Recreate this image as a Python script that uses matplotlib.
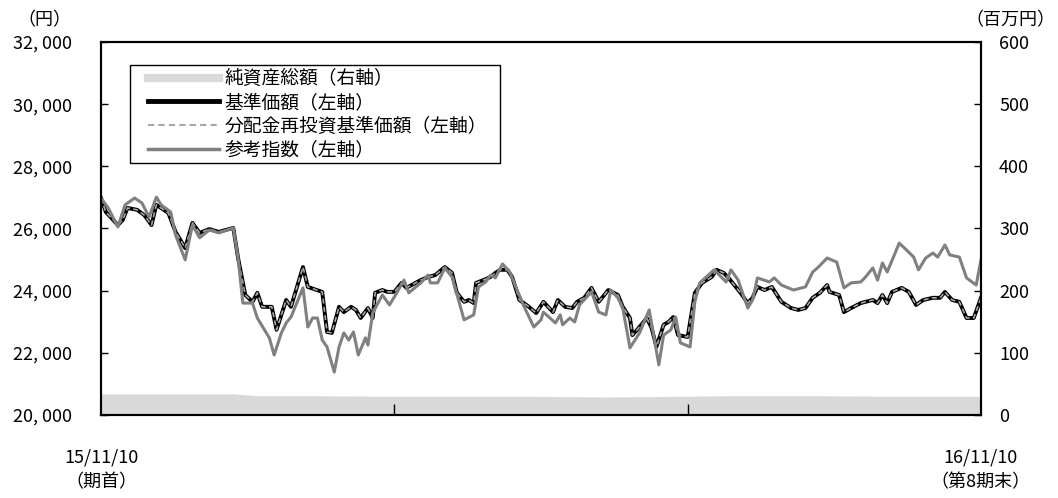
import numpy as np
import pandas as pd
import matplotlib
matplotlib.use('Agg')
import matplotlib.pyplot as plt
from matplotlib.ticker import FuncFormatter
from matplotlib.lines import Line2D
from matplotlib.patches import Rectangle

plt.rcParams['font.family'] = ['Noto Sans CJK JP', 'DejaVu Sans']

start = pd.Timestamp('2015-11-10')
end = pd.Timestamp('2016-11-10')

# 基準価額 (day offset from start, yen)
nav_days = [0, 2, 7, 9, 11, 15, 18, 21, 23, 28, 31, 35, 38, 41, 45, 49, 55, 57, 60, 63,
            65, 67, 71, 73, 77, 79, 84, 86, 92, 94, 96, 99, 101, 104, 106, 108, 111, 113, 114, 117,
            119, 122, 125, 127, 133, 136, 139, 143, 146, 148, 151, 153, 155, 156, 159, 162, 164, 166, 169, 171,
            174, 178, 181, 184, 188, 190, 193, 196, 198, 201, 204, 207, 211, 215, 217, 220, 221, 223, 227, 229,
            231, 234, 236, 238, 240, 244, 247, 250, 254, 256, 259, 261, 266, 269, 271, 273, 276, 279, 283, 287,
            290, 293, 296, 299, 302, 303, 307, 309, 312, 316, 321, 323, 325, 327, 329, 333, 336, 339, 342, 346,
            349, 351, 354, 357, 360, 363, 366]
nav = [26980, 26530, 26110, 26270, 26660, 26600, 26430, 26110, 26760, 26500, 25890, 25370, 26180, 25860, 25980, 25890, 26020, 25050, 23860, 23640,
       23930, 23480, 23480, 22740, 23700, 23480, 24760, 24120, 23960, 22670, 22640, 23480, 23310, 23480, 23380, 23120, 23440, 23120, 23930, 24020,
       23960, 23960, 24250, 24090, 24340, 24440, 24500, 24760, 24570, 23930, 23640, 23700, 23600, 24250, 24340, 24440, 24570, 24670, 24670, 24440,
       23700, 23480, 23280, 23640, 23310, 23700, 23480, 23440, 23640, 23770, 24090, 23640, 24020, 23860, 23480, 23120, 22570, 22740, 23120, 22800,
       22190, 22900, 22990, 23150, 22570, 22510, 23930, 24250, 24440, 24670, 24570, 24410, 23930, 23600, 23770, 24120, 24020, 24120, 23640, 23440,
       23380, 23440, 23770, 23930, 24180, 23960, 23860, 23310, 23440, 23600, 23700, 23600, 23860, 23600, 23960, 24090, 23960, 23540, 23700, 23770,
       23770, 23960, 23700, 23640, 23120, 23120, 23770]
# 分配金再投資基準価額 (no distribution in the period)
nav_reinv = list(nav)

# 参考指数
ref_days = [0, 3, 7, 10, 14, 17, 20, 23, 25, 29, 31, 35, 38, 41, 45, 49, 55, 57, 59, 63,
            65, 70, 72, 75, 77, 79, 84, 86, 88, 90, 92, 94, 97, 99, 101, 103, 105, 107, 110, 111,
            113, 117, 120, 123, 126, 128, 133, 136, 137, 140, 143, 146, 151, 155, 157, 160, 162, 164, 167, 170,
            176, 180, 183, 184, 189, 191, 192, 195, 197, 199, 204, 207, 210, 212, 215, 217, 220, 224, 228, 230,
            232, 234, 237, 239, 241, 245, 247, 249, 255, 260, 262, 265, 269, 271, 273, 278, 280, 283, 288, 293,
            296, 298, 302, 306, 309, 312, 316, 318, 321, 323, 325, 327, 332, 335, 338, 340, 343, 346, 348, 351,
            353, 357, 360, 364, 366]
ref = [26980, 26660, 26050, 26760, 26980, 26820, 26370, 27010, 26760, 26530, 25790, 24990, 26110, 25700, 25950, 25860, 26020, 25050, 23600, 23600,
       23120, 22480, 21930, 22640, 22960, 23150, 24090, 22830, 23120, 23120, 22410, 22190, 21380, 22190, 22640, 22410, 22670, 21930, 22480, 22250,
       23280, 23860, 23540, 23930, 24340, 23930, 24250, 24500, 24250, 24250, 24730, 24440, 23060, 23220, 24120, 24280, 24500, 24410, 24860, 24600,
       23480, 22830, 23060, 23310, 22960, 23220, 22900, 23120, 22990, 23540, 23960, 23310, 23220, 24020, 23770, 23440, 22160, 22640, 23380, 22510,
       21610, 22570, 22740, 23150, 22320, 22190, 23640, 24250, 24670, 24280, 24670, 24340, 23440, 23700, 24410, 24280, 24410, 24180, 24020, 24120,
       24600, 24730, 25050, 24920, 24090, 24250, 24280, 24440, 24730, 24340, 24890, 24600, 25530, 25310, 25080, 24670, 25050, 25210, 25080, 25470,
       25150, 25080, 24410, 24180, 24990]

# 純資産総額 (百万円)
aum_days = [0, 30, 55, 65, 90, 120, 150, 180, 210, 240, 260, 300, 330, 366]
aum = [34, 34, 34, 31, 31, 30, 30, 30, 29, 30, 31, 31, 30, 30]

to_dates = lambda d: start + pd.to_timedelta(d, unit='D')

fig = plt.figure(figsize=(10.58, 4.98), dpi=100)
ax = fig.add_axes([0.0955, 0.1667, 0.8317, 0.749])
ax2 = ax.twinx()

ax2.fill_between(to_dates(aum_days), 0, aum, color='#d9d9d9', lw=0, zorder=1)
ax2.set_ylim(0, 600)
ax2.set_yticks(range(0, 601, 100))
ax2.tick_params(axis='y', direction='in', length=5, width=1, labelsize=13, pad=13)

ax.set_zorder(ax2.get_zorder() + 1)
ax.patch.set_visible(False)

ax.plot(to_dates(nav_days), nav, color='black', lw=2.8, solid_joinstyle='round')
ax.plot(to_dates(nav_days), nav_reinv, color='#a6a6a6', lw=1.2, ls=(0, (3, 2)))
ax.plot(to_dates(ref_days), ref, color='#808080', lw=2.2, solid_joinstyle='round')

ax.set_xlim(start, end)
ax.set_ylim(20000, 32000)
ax.set_yticks(range(20000, 32001, 2000))
ax.yaxis.set_major_formatter(FuncFormatter(lambda v, p: '{:,.0f}'.format(v).replace(',', ', ')))
ax.tick_params(axis='y', direction='in', length=5, width=1, labelsize=13, pad=21)
ax.set_xticks([start + (end - start) / 3, start + (end - start) * 2 / 3])
ax.set_xticklabels([])
ax.tick_params(axis='x', direction='in', length=8, width=1)

for a in (ax, ax2):
    for s in a.spines.values():
        s.set_linewidth(1.5)

ax.text(0, -0.09, '15/11/10\n（期首）', transform=ax.transAxes, ha='center', va='top',
        fontsize=13, linespacing=1.45)
ax.text(1, -0.09, '16/11/10\n（第8期末）', transform=ax.transAxes, ha='center', va='top',
        fontsize=13, linespacing=1.45)
fig.text(0.042, 0.96, '（円）', ha='center', va='center', fontsize=13)
fig.text(0.955, 0.96, '（百万円）', ha='center', va='center', fontsize=13)

# legend: entries without frame, box drawn separately
handles = [Line2D([], [], color='#d9d9d9', lw=6),
           Line2D([], [], color='black', lw=3.5),
           Line2D([], [], color='#a6a6a6', lw=1.5, ls=(0, (3, 2))),
           Line2D([], [], color='#808080', lw=2.5)]
labels = ['純資産総額（右軸）', '基準価額（左軸）', '分配金再投資基準価額（左軸）', '参考指数（左軸）']
ax.legend(handles, labels, loc='upper left', bbox_to_anchor=(0.053, 0.93), fontsize=13.5,
          frameon=False, handlelength=3.8, handletextpad=0.3, labelspacing=0.15,
          borderpad=0, borderaxespad=0)
ax.add_patch(Rectangle((0.033, 0.676), 0.42, 0.262, transform=ax.transAxes,
                       fill=False, edgecolor='black', lw=1.0, zorder=5))

fig.savefig('out.png', dpi=100)
